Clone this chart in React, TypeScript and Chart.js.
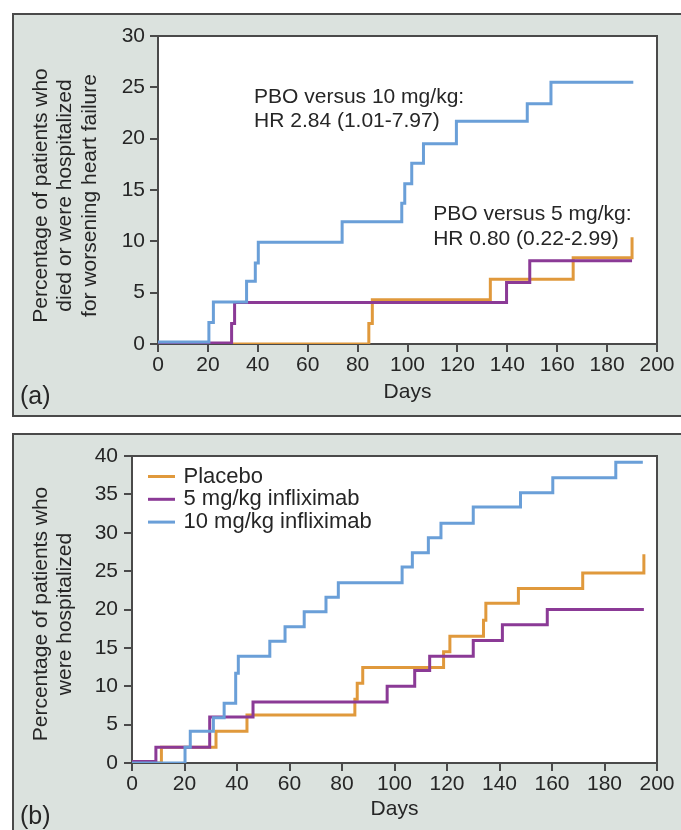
import React, { useEffect, useRef } from "react";
import { Chart, registerables } from "chart.js";

Chart.register(...registerables);

const FONT = '"Liberation Sans", Arial, Helvetica, sans-serif';
const TEXT = "#262626";
const FRAME = "#4a4a4a";
const PANEL_BG = "#dbe2de";
const C_PLACEBO = "#e0993c";
const C_5MG = "#8b3a96";
const C_10MG = "#6a9fd8";

// Axis ticks
const dayTicks = [0, 20, 40, 60, 80, 100, 120, 140, 160, 180, 200];
const pctTicksA = [0, 5, 10, 15, 20, 25, 30];
const pctTicksB = [0, 5, 10, 15, 20, 25, 30, 35, 40];

// Series labels
const seriesLabels = ["Placebo", "5 mg/kg infliximab", "10 mg/kg infliximab"];

// (a) death or hospitalization for worsening heart failure
const aPlaceboDays = [0, 84.5, 85.9, 133.2, 166.4, 190];
const aPlaceboPct = [0, 2.0, 4.3, 6.3, 8.4, 10.4];
const a5mgDays = [0, 29.5, 30.7, 139.7, 149, 190];
const a5mgPct = [0.1, 2.0, 4.05, 6.0, 8.1, 8.1];
const a10mgDays = [0, 20.4, 22.2, 35.5, 39, 40.2, 73.8, 97.7, 98.9, 101.7, 106.4, 119.6, 148, 157.5, 190.5];
const a10mgPct = [0.2, 2.1, 4.1, 6.1, 7.9, 9.9, 11.9, 13.7, 15.6, 17.6, 19.5, 21.7, 23.4, 25.5, 25.5];

// (b) hospitalization
const bPlaceboDays = [0, 11.2, 32, 43.8, 84.9, 85.8, 87.9, 118.7, 121.1, 133.9, 134.8, 147.2, 171.7, 195];
const bPlaceboPct = [0, 2.05, 4.15, 6.25, 8.3, 10.4, 12.45, 14.5, 16.5, 18.6, 20.8, 22.75, 24.75, 27.2];
const b5mgDays = [0, 9.1, 29.6, 46.1, 97.2, 107.7, 113.4, 130, 141.1, 158.2, 195];
const b5mgPct = [0.2, 2.05, 6.0, 7.95, 10.0, 12.05, 13.9, 15.95, 18.0, 20.0, 20.0];
const b10mgDays = [0, 20.2, 22.2, 31, 35.1, 39.5, 40.5, 52.5, 58.3, 65.6, 73.9, 78.6, 102.9, 106.8, 112.9, 117.7, 130, 148, 160.3, 184.3, 194.6];
const b10mgPct = [0, 2.05, 4.15, 5.9, 7.8, 11.7, 13.9, 15.85, 17.75, 19.7, 21.6, 23.5, 25.55, 27.4, 29.35, 31.25, 33.35, 35.2, 37.15, 39.2, 39.2];

// Hazard-ratio notes for panel (a), anchored in data units
const hrNotes = [
  { day: 38.5, pct: 24.05, lines: ["PBO versus 10 mg/kg:", "HR 2.84 (1.01-7.97)"] },
  { day: 110.3, pct: 12.6, lines: ["PBO versus 5 mg/kg:", "HR 0.80 (0.22-2.99)"] },
];

const yTitleA = ["Percentage of patients who", "died or were hospitalized", "for worsening heart failure"];
const yTitleB = ["Percentage of patients who", "were hospitalized"];

const toPoints = (days: number[], pct: number[]) => days.map((d, i) => ({ x: d, y: pct[i] }));

const stepSeries = (label: string, days: number[], pct: number[], color: string, order: number) => ({
  label,
  data: toPoints(days, pct),
  stepped: "before" as const,
  borderColor: color,
  backgroundColor: color,
  borderWidth: 3,
  pointRadius: 0,
  fill: false,
  order,
});

type Decor = {
  yTitle: string[];
  yTitleX: number;
  yTitleCy: number;
  panelTag: string;
  tagY: number;
  notes?: typeof hrNotes;
  legend?: boolean;
};

// Draws the white plot face, the frame, the rotated y title, notes, legend and panel tag
const makeDecor = (d: Decor) => ({
  id: "panelDecor",
  beforeDraw(chart: any) {
    const { ctx, chartArea: a } = chart;
    ctx.save();
    ctx.fillStyle = "#ffffff";
    ctx.fillRect(a.left, a.top, a.right - a.left, a.bottom - a.top);
    ctx.restore();
  },
  beforeDatasetsDraw(chart: any) {
    const { ctx, chartArea: a } = chart;
    ctx.save();
    ctx.strokeStyle = FRAME;
    ctx.lineWidth = 2;
    ctx.strokeRect(a.left, a.top, a.right - a.left, a.bottom - a.top);
    ctx.restore();
  },
  afterDraw(chart: any) {
    const { ctx, chartArea: a, scales } = chart;
    ctx.save();
    ctx.fillStyle = TEXT;
    ctx.font = `21px ${FONT}`;
    ctx.textBaseline = "middle";

    // y title, rotated, one column per line
    ctx.textAlign = "center";
    d.yTitle.forEach((line, i) => {
      ctx.save();
      ctx.translate(d.yTitleX + i * 24.5, d.yTitleCy);
      ctx.rotate(-Math.PI / 2);
      ctx.fillText(line, 0, 0);
      ctx.restore();
    });

    // hazard-ratio notes
    ctx.textAlign = "left";
    (d.notes || []).forEach((n) => {
      const x = scales.x.getPixelForValue(n.day);
      const y = scales.y.getPixelForValue(n.pct);
      n.lines.forEach((line, i) => ctx.fillText(line, x, y + i * 24.5));
    });

    // legend inside the plot
    if (d.legend) {
      ctx.font = `22px ${FONT}`;
      const order = [0, 1, 2];
      order.forEach((idx, row) => {
        const ds = chart.data.datasets[idx];
        const y = a.top + 20.5 + row * 22.8;
        ctx.strokeStyle = ds.borderColor;
        ctx.lineWidth = 3;
        ctx.beginPath();
        ctx.moveTo(a.left + 16, y);
        ctx.lineTo(a.left + 43, y);
        ctx.stroke();
        ctx.fillText(ds.label, a.left + 51.5, y);
      });
    }

    // panel tag
    ctx.font = `25px ${FONT}`;
    ctx.textBaseline = "alphabetic";
    ctx.fillText(d.panelTag, 20, d.tagY);
    ctx.restore();
  },
});

const xAxis = (height: number) => ({
  type: "linear" as const,
  min: 0,
  max: 200,
  afterBuildTicks: (s: any) => {
    s.ticks = dayTicks.map((v) => ({ value: v }));
  },
  ticks: { color: TEXT, font: { family: FONT, size: 21 }, padding: 1, maxRotation: 0, autoSkip: false },
  grid: { drawOnChartArea: false, drawTicks: true, tickLength: 8, color: FRAME, lineWidth: 2 },
  border: { display: false },
  title: { display: true, text: "Days", color: TEXT, font: { family: FONT, size: 21 }, padding: 0 },
  afterFit: (s: any) => {
    s.height = height;
  },
});

const yAxis = (max: number, ticks: number[], width: number, pad: number) => ({
  type: "linear" as const,
  min: 0,
  max,
  afterBuildTicks: (s: any) => {
    s.ticks = ticks.map((v) => ({ value: v }));
  },
  ticks: { color: TEXT, font: { family: FONT, size: 21 }, padding: pad, autoSkip: false },
  grid: { drawOnChartArea: false, drawTicks: true, tickLength: 8, color: FRAME, lineWidth: 2 },
  border: { display: false },
  afterFit: (s: any) => {
    s.width = width;
  },
});

const buildA = (): any => ({
  type: "line",
  data: {
    datasets: [
      stepSeries(seriesLabels[0], aPlaceboDays, aPlaceboPct, C_PLACEBO, 2),
      stepSeries(seriesLabels[1], a5mgDays, a5mgPct, C_5MG, 1),
      stepSeries(seriesLabels[2], a10mgDays, a10mgPct, C_10MG, 0),
    ],
  },
  options: {
    responsive: false,
    animation: false,
    events: [],
    layout: { padding: { left: 0, top: 36, right: 24, bottom: 15 } },
    scales: { x: xAxis(61), y: yAxis(30, pctTicksA, 158, 5) },
    plugins: { legend: { display: false }, tooltip: { enabled: false } },
  },
  plugins: [
    makeDecor({ yTitle: yTitleA, yTitleX: 41, yTitleCy: 195.5, panelTag: "(a)", tagY: 404, notes: hrNotes }),
  ],
});

const buildB = (): any => ({
  type: "line",
  data: {
    datasets: [
      stepSeries(seriesLabels[0], bPlaceboDays, bPlaceboPct, C_PLACEBO, 2),
      stepSeries(seriesLabels[1], b5mgDays, b5mgPct, C_5MG, 1),
      stepSeries(seriesLabels[2], b10mgDays, b10mgPct, C_10MG, 0),
    ],
  },
  options: {
    responsive: false,
    animation: false,
    events: [],
    layout: { padding: { left: 0, top: 31, right: 24, bottom: 8 } },
    scales: { x: xAxis(59), y: yAxis(40, pctTicksB, 132, 6) },
    plugins: { legend: { display: false }, tooltip: { enabled: false } },
  },
  plugins: [makeDecor({ yTitle: yTitleB, yTitleX: 41, yTitleCy: 189, panelTag: "(b)", tagY: 399, legend: true })],
});

export default function App() {
  const refA = useRef<HTMLCanvasElement>(null);
  const refB = useRef<HTMLCanvasElement>(null);

  useEffect(() => {
    const a = new Chart(refA.current as HTMLCanvasElement, buildA());
    const b = new Chart(refB.current as HTMLCanvasElement, buildB());
    return () => {
      a.destroy();
      b.destroy();
    };
  }, []);

  const panel: React.CSSProperties = {
    position: "fixed",
    left: 12,
    width: 669,
    boxSizing: "border-box",
    border: `2px solid ${FRAME}`,
    borderRight: "none",
    background: PANEL_BG,
  };

  return (
    <>
      <div style={{ ...panel, top: 13, height: 404 }} />
      <div style={{ ...panel, top: 433, height: 397, borderBottom: "none" }} />
      <canvas
        ref={refA}
        width={681}
        height={420}
        style={{ position: "fixed", left: 0, top: 0, width: 681, height: 420, display: "block" }}
      />
      <canvas
        ref={refB}
        width={681}
        height={405}
        style={{ position: "fixed", left: 0, top: 425, width: 681, height: 405, display: "block" }}
      />
    </>
  );
}
